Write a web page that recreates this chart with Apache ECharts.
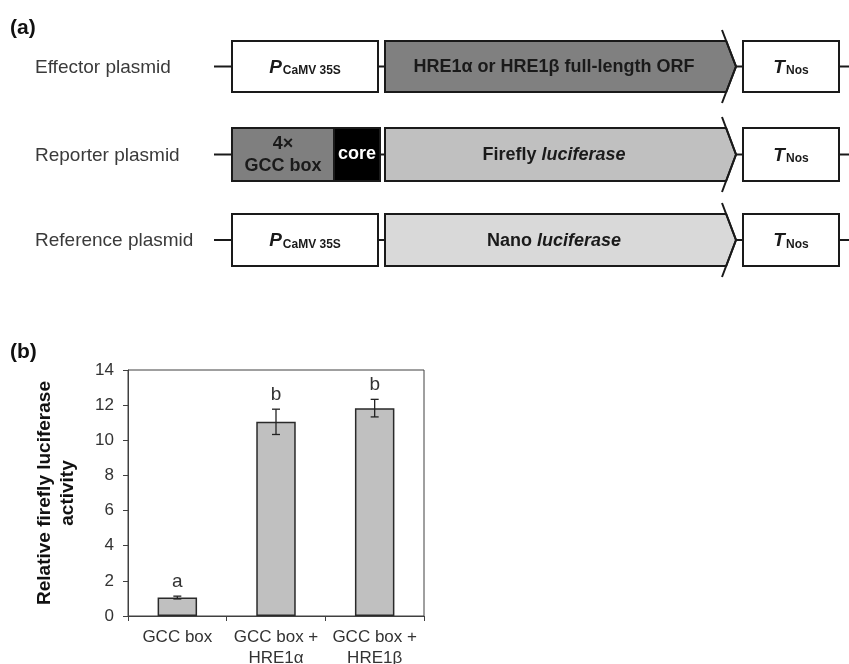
<!DOCTYPE html>
<html><head><meta charset="utf-8">
<script src="https://cdn.jsdelivr.net/npm/echarts@6/dist/echarts.min.js"></script>
<style>html,body{margin:0;padding:0;background:#fff}#c{width:849px;height:664px}</style>
</head><body><div id="c"></div>
<script>
// ---- data ----
const categories = ['GCC box', 'GCC box +\nHRE1α', 'GCC box +\nHRE1β'];
const activity = [1.05, 11.05, 11.83];
const errors = [0.08, 0.72, 0.50];
const letters = ['a', 'b', 'b'];
const yTicks = { min: 0, max: 14, interval: 2 };
const plasmidNames = ['Effector plasmid', 'Reporter plasmid', 'Reference plasmid'];
const orfTexts = ['{b|HRE1α or HRE1β full-length ORF}', '{b|Firefly }{i|luciferase}', '{b|Nano }{i|luciferase}'];

const FONT = '"Liberation Sans", Arial, sans-serif';
const INK = '#1a1a1a';
const chart = echarts.init(document.getElementById('c'), null, { renderer: 'canvas' });

// ---- diagram (panel a) ----
const rows = [
  { top: 41, bot: 92, orfFill: '#808080', promoter: 'p35s' },
  { top: 128, bot: 181, orfFill: '#c0c0c0', promoter: 'gcc' },
  { top: 214, bot: 266, orfFill: '#d9d9d9', promoter: 'p35s' }
];
const richPT = () => ({
  m: { fontFamily: FONT, fontSize: 19, fontWeight: 'bold', fontStyle: 'italic', fill: INK, verticalAlign: 'bottom' },
  s: { fontFamily: FONT, fontSize: 12, fontWeight: 'bold', fill: INK, verticalAlign: 'bottom', padding: [0, 0, 0, 1] }
});
const graphics = [];
const lineEl = (x1, y1, x2, y2) => ({ type: 'line', shape: { x1, y1, x2, y2 }, style: { stroke: INK, lineWidth: 2 } });
rows.forEach((r, i) => {
  const c = (r.top + r.bot) / 2;
  const half = (r.bot - r.top) / 2;
  graphics.push({ type: 'text', x: 35, y: c + 1, style: { text: plasmidNames[i], fontFamily: FONT, fontSize: 19, fill: '#3a3a3a', verticalAlign: 'middle', align: 'left' } });
  graphics.push(lineEl(214, c, 232, c));
  if (r.promoter === 'p35s') {
    graphics.push({ type: 'rect', shape: { x: 232, y: r.top, width: 146, height: r.bot - r.top }, style: { fill: '#fff', stroke: INK, lineWidth: 2 } });
    graphics.push({ type: 'text', x: 305, y: c + 1, style: { text: '{m|P}{s|CaMV 35S}', rich: richPT(), align: 'center', verticalAlign: 'middle' } });
  } else {
    graphics.push({ type: 'rect', shape: { x: 232, y: r.top, width: 102, height: r.bot - r.top }, style: { fill: '#7f7f7f', stroke: INK, lineWidth: 2 } });
    graphics.push({ type: 'rect', shape: { x: 334, y: r.top, width: 46, height: r.bot - r.top }, style: { fill: '#000', stroke: INK, lineWidth: 2 } });
    graphics.push({ type: 'text', x: 283, y: c + 1, style: { text: '4×\nGCC box', fontFamily: FONT, fontSize: 18, fontWeight: 'bold', fill: INK, align: 'center', verticalAlign: 'middle', lineHeight: 22 } });
    graphics.push({ type: 'text', x: 357, y: c, style: { text: 'core', fontFamily: FONT, fontSize: 18, fontWeight: 'bold', fill: '#fff', align: 'center', verticalAlign: 'middle' } });
  }
  graphics.push(lineEl(r.promoter === 'p35s' ? 378 : 380, c, 385, c));
  // arrow body
  const hx = 722, tip = 736, ext = 11;
  const xt = hx + (tip - hx) * ext / (half + ext);
  graphics.push({ type: 'polygon', shape: { points: [[385, r.top], [xt, r.top], [tip, c], [xt, r.bot], [385, r.bot]] }, style: { fill: r.orfFill, stroke: INK, lineWidth: 2 } });
  graphics.push({ type: 'polyline', shape: { points: [[hx, r.top - ext], [tip, c], [hx, r.bot + ext]] }, style: { stroke: INK, lineWidth: 2, fill: null } });
  graphics.push({ type: 'text', x: 554, y: c + 1, style: { text: orfTexts[i], rich: {
    b: { fontFamily: FONT, fontSize: 18, fontWeight: 'bold', fill: INK },
    i: { fontFamily: FONT, fontSize: 18, fontWeight: 'bold', fontStyle: 'italic', fill: INK } }, align: 'center', verticalAlign: 'middle' } });
  graphics.push(lineEl(tip, c, 743, c));
  graphics.push({ type: 'rect', shape: { x: 743, y: r.top, width: 96, height: r.bot - r.top }, style: { fill: '#fff', stroke: INK, lineWidth: 2 } });
  graphics.push({ type: 'text', x: 791, y: c + 1, style: { text: '{m|T}{s|Nos}', rich: richPT(), align: 'center', verticalAlign: 'middle' } });
  graphics.push(lineEl(839, c, 849, c));
});
graphics.push({ type: 'text', x: 10, y: 28, style: { text: '(a)', fontFamily: FONT, fontSize: 21, fontWeight: 'bold', fill: '#111', verticalAlign: 'middle' } });
graphics.push({ type: 'text', x: 10, y: 352, style: { text: '(b)', fontFamily: FONT, fontSize: 21, fontWeight: 'bold', fill: '#111', verticalAlign: 'middle' } });
graphics.push({ type: 'text', x: 56, y: 493, rotation: Math.PI / 2, style: { text: 'Relative firefly luciferase\nactivity', fontFamily: FONT, fontSize: 19, fontWeight: 'bold', fill: '#111', align: 'center', verticalAlign: 'middle', lineHeight: 23 } });

const errData = categories.map((c, i) => [i, activity[i] - errors[i], activity[i] + errors[i]]);

chart.setOption({
  animation: false,
  backgroundColor: '#fff',
  graphic: graphics,
  grid: { left: 128, right: 425, top: 370, bottom: 48, show: true, borderColor: '#404040', borderWidth: 1, outerBoundsMode: 'none', containLabel: false },
  xAxis: {
    type: 'category', data: categories,
    axisLine: { lineStyle: { color: '#404040', width: 1 } },
    axisTick: { show: true, alignWithLabel: false, length: 5, lineStyle: { color: '#404040' } },
    axisLabel: { fontFamily: FONT, fontSize: 17, color: '#333', lineHeight: 21, margin: 11, interval: 0 }
  },
  yAxis: {
    type: 'value', min: yTicks.min, max: yTicks.max, interval: yTicks.interval,
    axisLine: { show: true, lineStyle: { color: '#404040', width: 1 } },
    axisTick: { show: true, length: 5, lineStyle: { color: '#404040' } },
    splitLine: { show: false },
    axisLabel: { fontFamily: FONT, fontSize: 17, color: '#333', margin: 14 }
  },
  series: [
    { type: 'bar', data: activity, barWidth: '40%', itemStyle: { color: '#c0c0c0', borderColor: '#2a2a2a', borderWidth: 1.5 } },
    { type: 'custom', data: errData, encode: { x: 0, y: [1, 2] }, z: 10,
      renderItem: (params, api) => {
        const lo = api.coord([api.value(0), api.value(1)]);
        const hi = api.coord([api.value(0), api.value(2)]);
        const w = 4;
        const st = { stroke: '#222', lineWidth: 1.3 };
        return { type: 'group', children: [
          { type: 'line', shape: { x1: hi[0], y1: hi[1], x2: lo[0], y2: lo[1] }, style: st },
          { type: 'line', shape: { x1: hi[0] - w, y1: hi[1], x2: hi[0] + w, y2: hi[1] }, style: st },
          { type: 'line', shape: { x1: lo[0] - w, y1: lo[1], x2: lo[0] + w, y2: lo[1] }, style: st },
          { type: 'text', x: hi[0], y: hi[1] - 5, style: { text: letters[params.dataIndex], fontFamily: FONT, fontSize: 19, fill: '#333', align: 'center', verticalAlign: 'bottom' } }
        ] };
      } }
  ]
});
</script></body></html>
